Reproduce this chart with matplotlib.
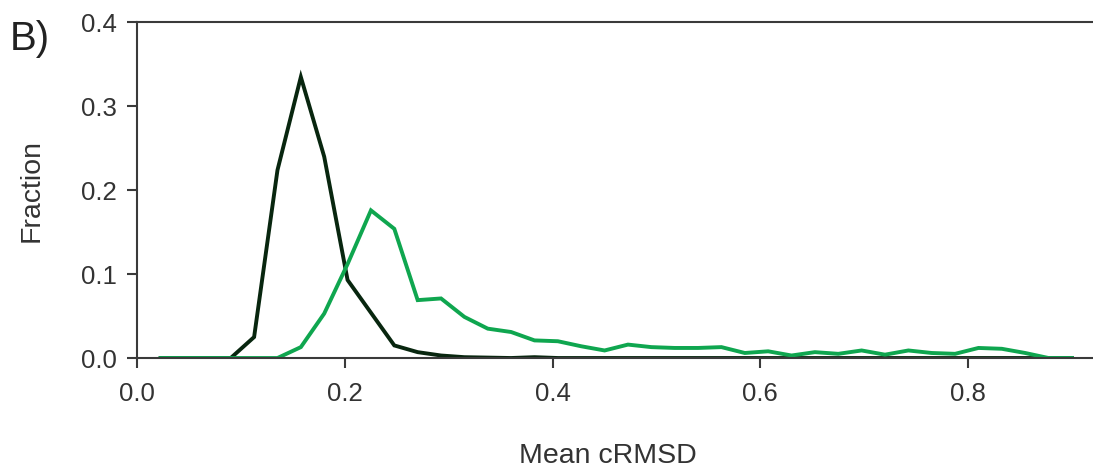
#   Fraction of structures vs mean cRMSD, two distributions (panel B)

import numpy as np
from matplotlib import pyplot as plt

plt.rcParams['font.family'] = ['Liberation Sans', 'DejaVu Sans']

#   bin centres (mean cRMSD)
mean_crmsd = [0.0225, 0.045, 0.0675, 0.09, 0.1125, 0.135, 0.1575, 0.18, 0.2025, 0.225,
              0.2475, 0.27, 0.2925, 0.315, 0.3375, 0.36, 0.3825, 0.405, 0.4275, 0.45,
              0.4725, 0.495, 0.5175, 0.54, 0.5625, 0.585, 0.6075, 0.63, 0.6525, 0.675,
              0.6975, 0.72, 0.7425, 0.765, 0.7875, 0.81, 0.8325, 0.855, 0.8775, 0.9]

#   fraction per bin, dark curve
fraction_dark = [0.0, 0.0, 0.0, 0.0, 0.025, 0.224, 0.335, 0.240, 0.093, 0.054,
                 0.015, 0.007, 0.003, 0.001, 0.0005, 0.0, 0.001, 0.0, 0.0, 0.0,
                 0.0, 0.0, 0.0, 0.0, 0.0, 0.0, 0.0, 0.0, 0.0, 0.0,
                 0.0, 0.0, 0.0, 0.0, 0.0, 0.0, 0.0, 0.0, 0.0, 0.0]

#   fraction per bin, light green curve
fraction_green = [0.0, 0.0, 0.0, 0.0, 0.0, 0.0, 0.013, 0.053, 0.112, 0.176,
                  0.154, 0.069, 0.071, 0.049, 0.035, 0.031, 0.021, 0.020, 0.014, 0.009,
                  0.016, 0.013, 0.012, 0.012, 0.013, 0.006, 0.008, 0.003, 0.007, 0.005,
                  0.009, 0.004, 0.009, 0.006, 0.005, 0.012, 0.011, 0.006, 0.0, 0.0]

x_ticks = [0.0, 0.2, 0.4, 0.6, 0.8]
y_ticks = [0.0, 0.1, 0.2, 0.3, 0.4]

axis_grey = '#3a3a3a'

fig = plt.figure(figsize=(10.93, 4.68), dpi=100)
ax = fig.add_axes([0.1256, 0.235, 0.8744, 0.717])

ax.plot(mean_crmsd, fraction_dark, color='#08260f', lw=2.8, solid_joinstyle='miter')
ax.plot(mean_crmsd, fraction_green, color='#0fa64f', lw=2.8, solid_joinstyle='miter')

ax.set_xlim(0, 0.9203)
ax.set_ylim(0, 0.4)
ax.set_xticks(x_ticks)
ax.set_yticks(y_ticks)
ax.set_xticklabels(['%.1f' % v for v in x_ticks])
ax.set_yticklabels(['%.1f' % v for v in y_ticks])

ax.spines['right'].set_visible(False)
for side in ['left', 'bottom', 'top']:
    ax.spines[side].set_color(axis_grey)
    ax.spines[side].set_linewidth(1.5)

ax.tick_params(axis='both', colors=axis_grey, labelcolor='#333333', labelsize=18.5,
               width=1.5, length=7, direction='out')
ax.tick_params(axis='x', pad=10)
ax.tick_params(axis='y', pad=8)

ax.set_xlabel('Mean cRMSD', fontsize=20.5, color='#333333')
ax.xaxis.set_label_coords(0.4925, -0.252)
ax.set_ylabel('Fraction', fontsize=20.5, color='#333333', labelpad=26)

fig.text(0.009, 0.893, 'B)', fontsize=29, color='#222222', ha='left', va='baseline')

plt.savefig('out.png', dpi=100)
